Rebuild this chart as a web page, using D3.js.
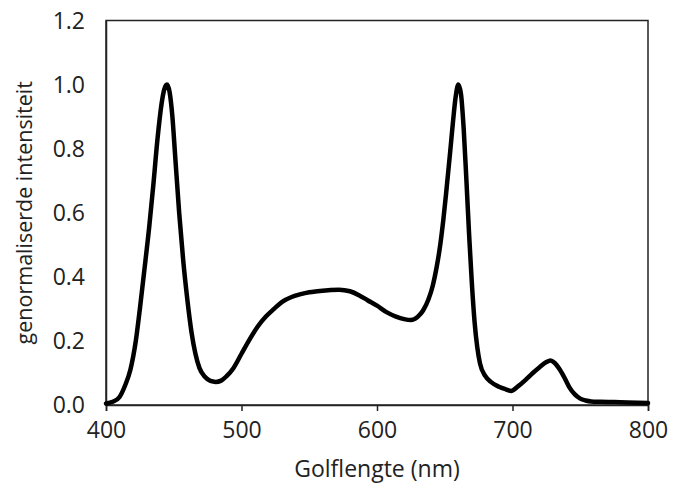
<!DOCTYPE html>
<html>
<head>
<meta charset="utf-8">
<script src="https://cdn.jsdelivr.net/npm/d3@7"></script>
<style>
  body { margin: 0; background: #fff; }
  text { font-family: "Open Sans", sans-serif; fill: #222; }
</style>
</head>
<body>
<svg id="chart" width="673" height="491"></svg>
<script>
// Wavelength (nm)
const wavelengths = [400, 405, 410, 414, 418, 422, 425, 428, 432, 435, 438, 441, 443, 445, 447, 449, 451, 454, 457, 460, 463, 466, 469, 473, 477, 481, 485, 489, 494, 500, 506, 512, 518, 524, 530, 537, 543, 550, 556, 564, 572, 580, 587, 593, 600, 607, 614, 620, 625, 630, 634, 638, 641, 644, 646, 649, 651, 654, 656, 658, 660, 662, 664, 666, 668, 670, 672, 674, 676, 680, 684, 690, 695, 699, 704, 710, 715, 720, 725, 728, 731, 735, 739, 742, 746, 750, 754, 758, 765, 775, 785, 800];
// Normalised intensity
const intensity = [0.005, 0.01, 0.025, 0.06, 0.11, 0.2, 0.3, 0.41, 0.56, 0.69, 0.83, 0.94, 0.985, 1.0, 0.975, 0.9, 0.78, 0.6, 0.45, 0.33, 0.23, 0.16, 0.115, 0.088, 0.075, 0.072, 0.076, 0.09, 0.115, 0.16, 0.205, 0.245, 0.276, 0.3, 0.322, 0.337, 0.345, 0.352, 0.355, 0.358, 0.36, 0.355, 0.342, 0.327, 0.31, 0.29, 0.276, 0.268, 0.265, 0.275, 0.295, 0.33, 0.37, 0.43, 0.48, 0.58, 0.66, 0.79, 0.88, 0.96, 1.0, 0.97, 0.86, 0.7, 0.53, 0.38, 0.26, 0.18, 0.13, 0.09, 0.072, 0.057, 0.049, 0.044, 0.058, 0.08, 0.1, 0.118, 0.134, 0.139, 0.132, 0.11, 0.08, 0.055, 0.033, 0.02, 0.014, 0.011, 0.01, 0.009, 0.008, 0.006];
const xTicks = [400, 500, 600, 700, 800];
const yTicks = [0, 0.2, 0.4, 0.6, 0.8, 1.0, 1.2];
const xTitle = "Golflengte (nm)";
const yTitle = "genormaliserde intensiteit";

const data = wavelengths.map((w, i) => ({ w, v: intensity[i] }));

const svg = d3.select("#chart");
const margin = { left: 106, right: 25, top: 20.5, bottom: 86 };
const W = 673, H = 491;
const x = d3.scaleLinear().domain([400, 800]).range([margin.left, W - margin.right]);
const y = d3.scaleLinear().domain([0, 1.2]).range([H - margin.bottom, margin.top]);
const FONT = "'Open Sans', sans-serif";

// frame (top & right)
svg.append("rect")
  .attr("x", x(400)).attr("y", y(1.2))
  .attr("width", x(800) - x(400)).attr("height", y(0) - y(1.2))
  .attr("fill", "none").attr("stroke", "#222").attr("stroke-width", 1.5);

// x axis
const xAxis = svg.append("g")
  .attr("transform", `translate(0,${y(0)})`)
  .call(d3.axisBottom(x).tickValues(xTicks).tickFormat(d3.format("d")).tickSize(6).tickSizeOuter(6).tickPadding(10));
xAxis.select(".domain").attr("stroke", "#222").attr("stroke-width", 1.5);
xAxis.selectAll(".tick line").attr("stroke", "#222").attr("stroke-width", 1.5);
xAxis.selectAll(".tick text").style("font-family", FONT).style("font-size", "23px").attr("fill", "#222").attr("dy", "0.75em");

// y axis
const yAxis = svg.append("g")
  .attr("transform", `translate(${x(400)},0)`)
  .call(d3.axisLeft(y).tickValues(yTicks).tickFormat(d3.format(".1f")).tickSize(0).tickSizeOuter(0).tickPadding(21));
yAxis.select(".domain").attr("stroke", "#222").attr("stroke-width", 1.5);
yAxis.selectAll(".tick text").style("font-family", FONT).style("font-size", "23px").attr("fill", "#222").attr("dy", "0.34em");

// line
svg.append("path")
  .datum(data)
  .attr("fill", "none")
  .attr("stroke", "#000")
  .attr("stroke-width", 4.5)
  .attr("stroke-linejoin", "round")
  .attr("stroke-linecap", "round")
  .attr("d", d3.line().x(d => x(d.w)).y(d => y(d.v)).curve(d3.curveMonotoneX));

// titles
svg.append("text")
  .attr("x", (x(400) + x(800)) / 2).attr("y", 477)
  .attr("text-anchor", "middle")
  .style("font-family", FONT)
  .style("font-size", "23px")
  .text(xTitle);

svg.append("text")
  .attr("transform", `translate(32,${(y(0) + y(1.2)) / 2}) rotate(-90)`)
  .attr("text-anchor", "middle")
  .style("font-family", FONT)
  .style("font-size", "21.5px")
  .text(yTitle);
</script>
</body>
</html>
